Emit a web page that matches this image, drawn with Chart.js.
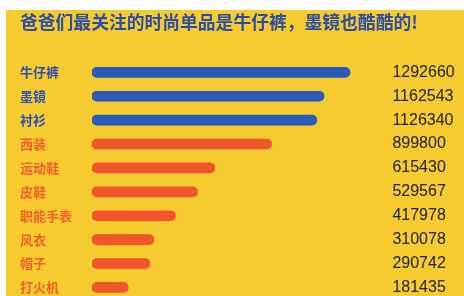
<!DOCTYPE html>
<html>
<head>
<meta charset="utf-8">
<script src="https://cdn.jsdelivr.net/npm/chart.js@4"></script>
<style>
    html, body { margin: 0; padding: 0; background: #fff; }
    #box { position: absolute; left: 6px; top: 10px; width: 458px; height: 286px; background: #F6CB30; overflow: hidden; }
</style>
</head>
<body>
<div id="box"><canvas id="myChart" width="458" height="300"></canvas></div>
<script>
'use strict'

const title = '爸爸们最关注的时尚单品是牛仔裤，墨镜也酷酷的!';
const labels = ['牛仔裤', '墨镜', '衬衫', '西装', '运动鞋', '皮鞋', '职能手表', '风衣', '帽子', '打火机'];
const values = [1292660, 1162543, 1126340, 899800, 615430, 529567, 417978, 310078, 290742, 181435];
const highlightCount = 3;

const blueBar = '#2B5BB9';
const orangeBar = '#F0562B';
const blueText = '#2D52AE';
const orangeText = '#F2602B';

function createGraph(chartId) {
    let barColors = values.map((v, i) => i < highlightCount ? blueBar : orangeBar);
    let ctx = document.getElementById(chartId).getContext('2d');
    new Chart(ctx, {
        type: 'bar',
        data: {
            labels: labels,
            datasets: [{
                data: values,
                backgroundColor: barColors,
                barThickness: 10,
                borderRadius: 5,
                borderSkipped: false,
                yAxisID: 'y',
            }]
        },
        options: {
            indexAxis: 'y',
            responsive: false,
            animation: false,
            layout: {
                padding: { left: 14, right: 0, top: 0, bottom: 7.6 }
            },
            plugins: {
                legend: { display: false },
                tooltip: { enabled: false },
                title: {
                    display: true,
                    text: title,
                    align: 'start',
                    color: '#2A4EA6',
                    font: { family: '"Noto Sans CJK SC"', size: 17.8, weight: 'bold', lineHeight: 1.2 },
                    padding: { top: 2, bottom: 27 }
                }
            },
            scales: {
                x: {
                    display: false,
                    min: 0,
                    max: 1500000,
                },
                y: {
                    position: 'left',
                    grid: { display: false, drawTicks: false },
                    border: { display: false },
                    ticks: {
                        crossAlign: 'far',
                        padding: 0,
                        color: c => c.index < highlightCount ? blueText : orangeText,
                        font: { family: '"Noto Sans CJK SC"', size: 13, weight: 'bold' }
                    },
                    afterFit: scale => { scale.width = 72; }
                },
                y2: {
                    type: 'category',
                    position: 'right',
                    labels: values.map(v => String(v)),
                    offset: true,
                    grid: { display: false, drawTicks: false },
                    border: { display: false },
                    ticks: {
                        crossAlign: 'near',
                        padding: 1,
                        color: '#1E1E1E',
                        font: { family: '"Liberation Sans", Arial', size: 16 }
                    },
                    afterFit: scale => { scale.width = 72.6; }
                }
            }
        }
    });
}

createGraph('myChart');
</script>
</body>
</html>
